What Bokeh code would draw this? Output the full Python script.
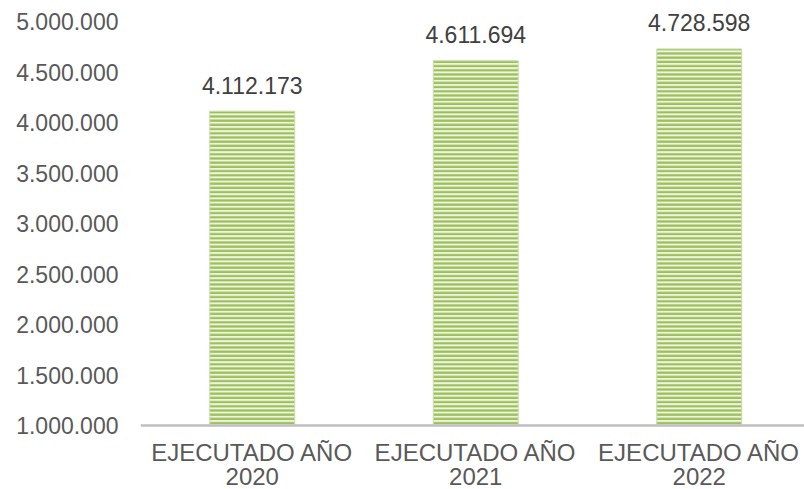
from bokeh.plotting import figure
from bokeh.models import Range1d, FixedTicker, ColumnDataSource, Span
from bokeh.embed import file_html
from bokeh.resources import INLINE
from bokeh.core.properties import value

categories = ["EJECUTADO AÑO\n2020", "EJECUTADO AÑO\n2021", "EJECUTADO AÑO\n2022"]
values = [4112173, 4611694, 4728598]
y_ticks = [1000000, 1500000, 2000000, 2500000, 3000000, 3500000, 4000000, 4500000, 5000000]
y_tick_labels = ["1.000.000", "1.500.000", "2.000.000", "2.500.000", "3.000.000",
                 "3.500.000", "4.000.000", "4.500.000", "5.000.000"]
y_min, y_max = 1000000, 5000000

def fmt(v):
    return f"{v:,}".replace(",", ".")

# layout: plot area of the value axis spans 404 px, with room above and below for texts
span = y_max - y_min
y_lo = y_min - span * 64 / 404
y_hi = y_max + span * 21 / 404

xs = list(range(len(categories)))
src = ColumnDataSource(dict(x=xs, top=values, label=[fmt(v) for v in values],
                            cat=categories, base=[y_min] * len(xs)))

p = figure(width=804, height=489, output_backend="svg", toolbar_location=None,
           x_range=Range1d(-0.5, 2.471), y_range=Range1d(y_lo, y_hi),
           min_border_left=140, min_border_right=0, min_border_top=0, min_border_bottom=0)
p.outline_line_color = None
p.background_fill_color = "white"
p.border_fill_color = "white"
p.xgrid.visible = False
p.ygrid.visible = False
p.xaxis.visible = False

p.vbar(x="x", top="top", bottom=y_min, width=0.38, source=src,
       fill_color="#eef4e2", line_color="#c9dca3", line_width=1,
       hatch_pattern="horizontal_line", hatch_color="#9dbf5a",
       hatch_scale=4.2, hatch_weight=2.3)

# category axis line
p.add_layout(Span(location=y_min, dimension="width", line_color="#bfbfbf", line_width=2.5))

# value labels
p.text(x="x", y="top", text="label", source=src, y_offset=-26,
       text_align="center", text_baseline="alphabetic",
       text_font=value("Liberation Sans"), text_font_size="23px", text_color="#404040")

# category labels
p.text(x="x", y="base", text="cat", source=src, y_offset=13,
       text_align="center", text_baseline="top",
       text_font=value("Liberation Sans"), text_font_size="24px",
       text_line_height=0.9, text_color="#595959")

# y axis
p.yaxis.ticker = FixedTicker(ticks=y_ticks)
p.yaxis.major_label_overrides = {t: l for t, l in zip(y_ticks, y_tick_labels)}
p.yaxis.axis_line_color = None
p.yaxis.major_tick_line_color = None
p.yaxis.minor_tick_line_color = None
p.yaxis.major_label_standoff = 16
p.yaxis.major_label_text_font = "Liberation Sans"
p.yaxis.major_label_text_font_size = "23px"
p.yaxis.major_label_text_color = "#595959"

open("out.html", "w").write(file_html(p, INLINE))
